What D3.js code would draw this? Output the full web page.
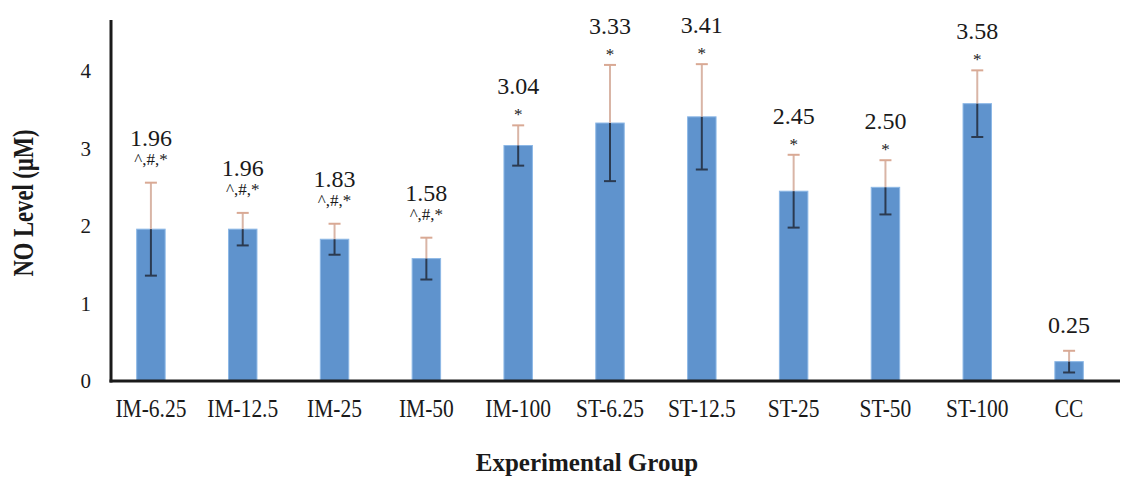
<!DOCTYPE html>
<html>
<head>
<meta charset="utf-8">
<script src="https://cdn.jsdelivr.net/npm/d3@7"></script>
<style>
  html, body { margin: 0; padding: 0; background: #fff; }
  svg { display: block; }
  svg text { font-family: "Liberation Serif", serif; fill: #1a1a1a; }
</style>
</head>
<body>
<svg id="chart" width="1127" height="480"></svg>
<script>
const categories = ["IM-6.25", "IM-12.5", "IM-25", "IM-50", "IM-100", "ST-6.25", "ST-12.5", "ST-25", "ST-50", "ST-100", "CC"];
const means = [1.96, 1.96, 1.83, 1.58, 3.04, 3.33, 3.41, 2.45, 2.50, 3.58, 0.25];
const errors = [0.60, 0.21, 0.20, 0.27, 0.26, 0.75, 0.68, 0.47, 0.35, 0.43, 0.14];
const marks = ["^,#,*", "^,#,*", "^,#,*", "^,#,*", "*", "*", "*", "*", "*", "*", ""];
const yTicks = [0, 1, 2, 3, 4];
const yTitle = "NO Level (\u03bcM)";
const xTitle = "Experimental Group";

const FONT = "'Liberation Serif', serif";
const svg = d3.select("#chart");
const base = 381;

const x = d3.scaleBand().domain(categories).range([105, 1115]).paddingInner(0.69).paddingOuter(0.345);
const y = d3.scaleLinear().domain([0, 4.66]).range([base, 20]);

const data = categories.map((c, i) => ({ c, m: means[i], e: errors[i], s: marks[i] }));

// bars
svg.append("g").selectAll("rect").data(data).join("rect")
  .attr("x", d => x(d.c))
  .attr("width", x.bandwidth())
  .attr("y", d => y(d.m))
  .attr("height", d => base - y(d.m))
  .attr("fill", "#5f93cd")
  .attr("stroke", "#8db8e6")
  .attr("stroke-width", 1);

// error bars
const eb = svg.append("g").selectAll("g").data(data).join("g")
  .attr("transform", d => `translate(${x(d.c) + x.bandwidth() / 2},0)`);
eb.append("line").attr("x1", 0).attr("x2", 0)
  .attr("y1", d => y(d.m + d.e)).attr("y2", d => y(d.m))
  .attr("stroke", "#d9b5a6").attr("stroke-width", 2);
eb.append("line").attr("x1", -6).attr("x2", 6)
  .attr("y1", d => y(d.m + d.e)).attr("y2", d => y(d.m + d.e))
  .attr("stroke", "#d9a994").attr("stroke-width", 2);
eb.append("line").attr("x1", 0).attr("x2", 0)
  .attr("y1", d => y(d.m)).attr("y2", d => y(d.m - d.e))
  .attr("stroke", "#2b3a50").attr("stroke-width", 2);
eb.append("line").attr("x1", -6).attr("x2", 6)
  .attr("y1", d => y(d.m - d.e)).attr("y2", d => y(d.m - d.e))
  .attr("stroke", "#2b3a50").attr("stroke-width", 2);

// significance marks
eb.filter(d => d.s).append("text")
  .attr("text-anchor", "middle")
  .style("font-family", FONT)
  .attr("font-size", 17)
  .attr("y", d => y(d.m + d.e) - (d.s === "*" ? 5 : 18))
  .text(d => d.s);

// value labels
eb.append("text")
  .attr("text-anchor", "middle")
  .style("font-family", FONT)
  .attr("font-size", 24)
  .attr("y", d => y(d.m + d.e) - (d.s === "*" ? 31 : (d.s ? 37 : 18)))
  .text(d => d.m.toFixed(2));

// y axis
const yAxis = svg.append("g")
  .attr("transform", "translate(111,0)")
  .call(d3.axisLeft(y).tickValues(yTicks).tickSize(0).tickPadding(20).tickFormat(d3.format("d")));
yAxis.attr("font-family", null);
yAxis.select(".domain").remove();
yAxis.selectAll("text").attr("font-size", 21).style("font-family", FONT).attr("fill", "#1a1a1a");
svg.append("line").attr("x1", 111).attr("x2", 111).attr("y1", 20).attr("y2", base + 1.5)
  .attr("stroke", "#1a1a1a").attr("stroke-width", 3);

// x axis
const xAxis = svg.append("g")
  .attr("transform", `translate(0,${base})`)
  .call(d3.axisBottom(x).tickSize(0).tickPadding(18));
xAxis.attr("font-family", null);
xAxis.select(".domain").remove();
xAxis.selectAll("text").attr("font-size", 25).attr("transform", "scale(0.86,1)")
  .style("font-family", FONT).attr("fill", "#1a1a1a");
svg.append("line").attr("x1", 109.5).attr("x2", 1120).attr("y1", base).attr("y2", base)
  .attr("stroke", "#1a1a1a").attr("stroke-width", 3);

// titles
svg.append("text")
  .attr("transform", "translate(33,203) rotate(-90) scale(0.78,1)")
  .attr("text-anchor", "middle")
  .style("font-family", FONT)
  .attr("font-size", 29)
  .attr("font-weight", "bold")
  .text(yTitle);
svg.append("text")
  .attr("x", 587).attr("y", 471)
  .attr("text-anchor", "middle")
  .style("font-family", FONT)
  .attr("font-size", 25)
  .attr("font-weight", "bold")
  .text(xTitle);
</script>
</body>
</html>
